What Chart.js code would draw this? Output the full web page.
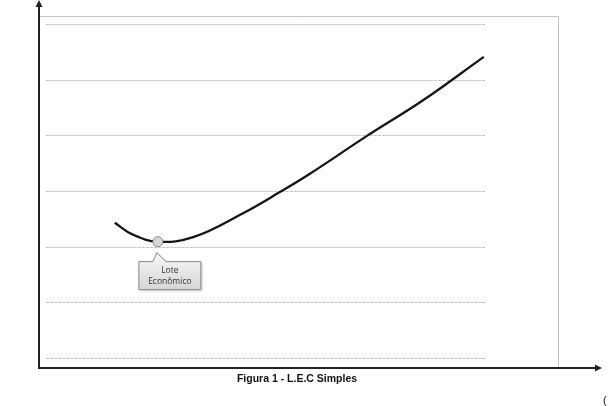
<!DOCTYPE html>
<html>
<head>
<meta charset="utf-8">
<script src="https://cdn.jsdelivr.net/npm/chart.js@4"></script>
<style>
  body { margin: 0; background: #fff; }
  canvas { display: block; }
</style>
</head>
<body>
<canvas id="myChart" width="608" height="406"></canvas>
<script>
// curve (x = lot size, y = cost)
const loteX = [14.6, 18.0, 22.9, 29.7, 39.3, 46.4, 52.2, 63.2, 74.0, 85.7];
const custoY = [2.43, 2.22, 2.09, 2.17, 2.60, 2.98, 3.31, 3.99, 4.63, 5.41];
const gridValues = [0, 1, 2, 3, 4, 5, 6];
const minPoint = { x: 22.9, y: 2.09 };
const calloutLines = ['Lote', 'Econômico'];
const caption = 'Figura 1 - L.E.C Simples';

const drawExtras = {
    id: 'drawExtras',
    beforeDatasetsDraw(chart) {
        const ctx = chart.ctx;
        const xs = chart.scales.x, ys = chart.scales.y;
        const area = chart.chartArea;
        ctx.save();
        // frame
        ctx.strokeStyle = '#c4c4c4';
        ctx.lineWidth = 1;
        ctx.beginPath();
        ctx.moveTo(area.left, area.top + 0.5);
        ctx.lineTo(area.right + 0.5, area.top + 0.5);
        ctx.lineTo(area.right + 0.5, area.bottom);
        ctx.stroke();
        // dashed grid
        ctx.strokeStyle = '#c2c2c2';
        ctx.setLineDash([3, 1]);
        gridValues.forEach(v => {
            const y = Math.round(ys.getPixelForValue(v)) + 0.5;
            ctx.beginPath();
            ctx.moveTo(area.left + 7, y);
            ctx.lineTo(xs.getPixelForValue(86.0), y);
            ctx.stroke();
        });
        ctx.setLineDash([]);
        ctx.restore();
    },
    afterDatasetsDraw(chart) {
        const ctx = chart.ctx;
        const xs = chart.scales.x, ys = chart.scales.y;
        const area = chart.chartArea;
        ctx.save();
        // axes with arrows
        ctx.strokeStyle = '#222';
        ctx.fillStyle = '#222';
        ctx.lineWidth = 2;
        ctx.beginPath();
        ctx.moveTo(area.left, area.bottom + 1);
        ctx.lineTo(area.left, 6);
        ctx.moveTo(area.left - 1, area.bottom);
        ctx.lineTo(596, area.bottom);
        ctx.stroke();
        ctx.beginPath();
        ctx.moveTo(area.left, 0);
        ctx.lineTo(area.left - 3.5, 7);
        ctx.lineTo(area.left + 3.5, 7);
        ctx.closePath();
        ctx.fill();
        ctx.beginPath();
        ctx.moveTo(602, area.bottom);
        ctx.lineTo(595, area.bottom - 3.5);
        ctx.lineTo(595, area.bottom + 3.5);
        ctx.closePath();
        ctx.fill();

        // callout
        const px = xs.getPixelForValue(minPoint.x);
        const py = ys.getPixelForValue(minPoint.y);
        const bx = px - 19, by = py + 20, bw = 62, bh = 28;
        ctx.shadowColor = 'rgba(0,0,0,0.25)';
        ctx.shadowBlur = 3;
        ctx.shadowOffsetX = 1;
        ctx.shadowOffsetY = 1;
        const grad = ctx.createLinearGradient(0, by, 0, by + bh);
        grad.addColorStop(0, '#f0f0f0');
        grad.addColorStop(1, '#d6d6d6');
        ctx.fillStyle = grad;
        ctx.strokeStyle = '#888';
        ctx.lineWidth = 1;
        ctx.beginPath();
        ctx.moveTo(bx, by);
        ctx.lineTo(px - 5, by);
        ctx.lineTo(px - 1, py + 11);
        ctx.lineTo(px + 8, by);
        ctx.lineTo(bx + bw, by);
        ctx.lineTo(bx + bw, by + bh);
        ctx.lineTo(bx, by + bh);
        ctx.closePath();
        ctx.fill();
        ctx.shadowColor = 'transparent';
        ctx.stroke();
        ctx.fillStyle = '#333';
        ctx.font = '8.5px "Open Sans", sans-serif';
        ctx.textAlign = 'center';
        ctx.textBaseline = 'middle';
        calloutLines.forEach((t, i) => {
            ctx.fillText(t, bx + bw / 2, by + 8.5 + i * 11);
        });

        // caption
        ctx.fillStyle = '#111';
        ctx.font = 'bold 10.5px "Liberation Sans", sans-serif';
        ctx.fillText(caption, 297, 379);
        ctx.font = '11px "Liberation Sans", sans-serif';
        ctx.textAlign = 'left';
        ctx.fillText('(', 603, 401);
        ctx.restore();
    }
};

const ctx = document.getElementById('myChart').getContext('2d');
const chart = new Chart(ctx, {
    type: 'scatter',
    data: {
        datasets: [{
            label: 'Custo',
            data: loteX.map((x, i) => ({ x: x, y: custoY[i] })),
            showLine: true,
            borderColor: '#151515',
            borderWidth: 2.3,
            pointRadius: 0,
            tension: 0.4,
            order: 2
        }, {
            label: 'Lote Econômico',
            data: [minPoint],
            pointRadius: 5,
            pointBackgroundColor: '#d6d6d6',
            pointBorderColor: '#8a8a8a',
            pointBorderWidth: 1,
            order: 1
        }]
    },
    options: {
        responsive: false,
        animation: false,
        layout: { padding: { left: 39, right: 50, top: 16, bottom: 38 } },
        plugins: {
            legend: { display: false },
            tooltip: { enabled: false }
        },
        scales: {
            x: { type: 'linear', min: 0, max: 100, display: false },
            y: { type: 'linear', min: -0.18, max: 6.144, display: false }
        }
    },
    plugins: [drawExtras]
});
</script>
</body>
</html>
